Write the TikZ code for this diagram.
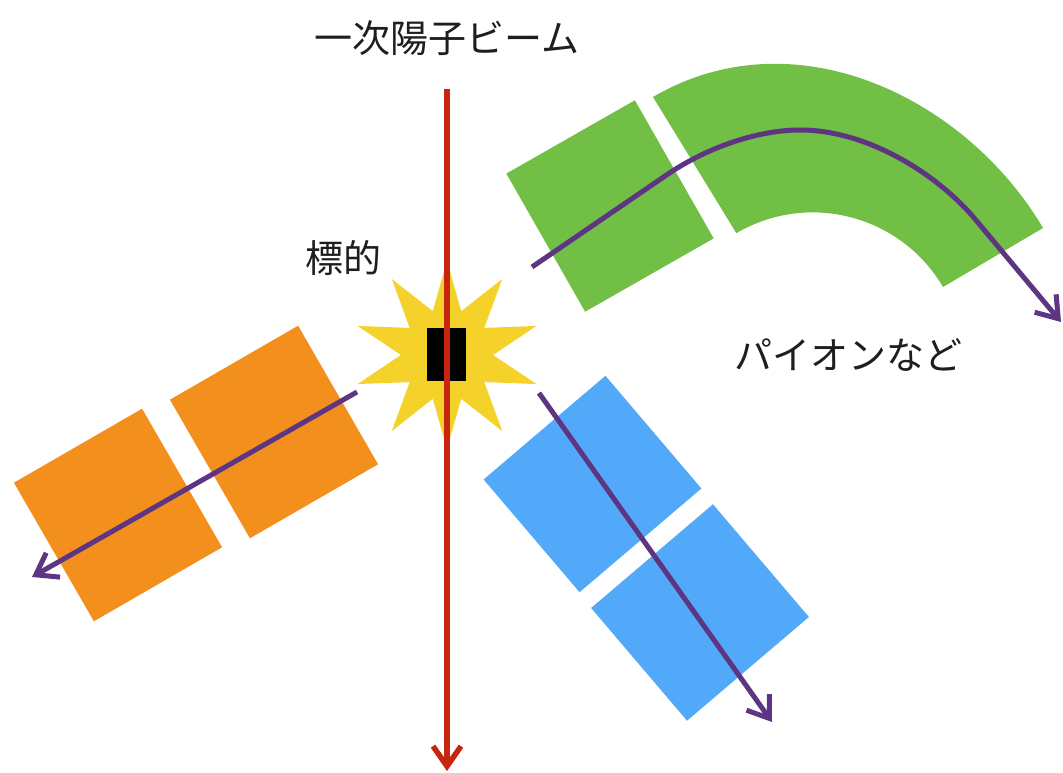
\documentclass[tikz,border=0pt]{standalone}
\usepackage{fontspec}
\newfontfamily\jpfont{Noto Sans CJK JP}
\usetikzlibrary{arrows.meta,shapes.geometric}

\definecolor{detorange}{RGB}{243,144,29}
\definecolor{detblue}{RGB}{82,168,249}
\definecolor{magnetgreen}{RGB}{113,191,68}
\definecolor{flashyellow}{RGB}{245,210,42}
\definecolor{pionpurple}{RGB}{94,53,130}
\definecolor{beamred}{RGB}{200,38,12}
\definecolor{inkgray}{RGB}{30,30,30}

\begin{document}
\begin{tikzpicture}[x=1pt,y=1pt,
  block/.style={rectangle, minimum width=148pt, minimum height=160pt, inner sep=0pt, draw=none},
  track/.style={line width=5pt, draw=pionpurple, -{Straight Barb[length=20pt,width=28pt]}},
  jplabel/.style={font=\jpfont\fontsize{38pt}{40pt}\selectfont, text=inkgray, inner sep=0pt}]
\fill[white] (0,0) rectangle (1063,772);
\useasboundingbox (0,0) rectangle (1063,772);

% spectrometer: straight block and bending magnet
\node[block, fill=magnetgreen, rotate=29.7, minimum height=159pt] (g1) at (610,566) {};
\fill[magnetgreen] (653,675) .. controls (795.7,758.5) and (966.8,673.2) .. (1043,544)
  -- (943,485) arc[start angle=30.4, end angle=120.4, radius=151] -- cycle;

% backward arm (orange)
\node[block, fill=detorange, rotate=30] (o1) at (274,340) {};
\node[block, fill=detorange, rotate=30] (o2) at (118,257) {};

% forward arm (blue)
\node[block, fill=detblue, rotate=-49.6] (b1) at (592.5,288) {};
\node[block, fill=detblue, rotate=-49.6] (b2) at (700,159.5) {};

% target with flash
\node[star, star points=10, star point ratio=2.04, minimum size=188pt, inner sep=0pt, fill=flashyellow] (flash) at (447,417) {};
\node[fill=black, minimum width=39pt, minimum height=53pt, inner sep=0pt] (target) at (446.5,417.5) {};

% primary proton beam
\coordinate (beamtop) at (447,683);
\coordinate (beamend) at (447,1);
\draw[line width=5.5pt, draw=beamred, -{Straight Barb[length=20pt,width=28pt]}] (beamtop) -- (beamend);

% secondary particle tracks
\coordinate (os) at (357,380);
\coordinate (oe) at (32,195);
\coordinate (bs) at (539,379);
\coordinate (be) at (772,50);
\coordinate (gs) at (532,505);
\coordinate (ge) at (1061,450);
\draw[track] (os) -- (oe);
\draw[track] (bs) -- (be);
\draw[track] (gs) -- (668,598) .. controls (709.5,626) and (760,642) .. (800,642)
  .. controls (870,642) and (940,595) .. (975,553) -- (ge);

% labels
\node[jplabel] (beamlabel) at (447,734) {一次陽子ビーム};
\node[jplabel] (targetlabel) at (343.5,513.5) {標的};
\node[jplabel] (pionlabel) at (848,417) {パイオンなど};
\end{tikzpicture}
\end{document}
